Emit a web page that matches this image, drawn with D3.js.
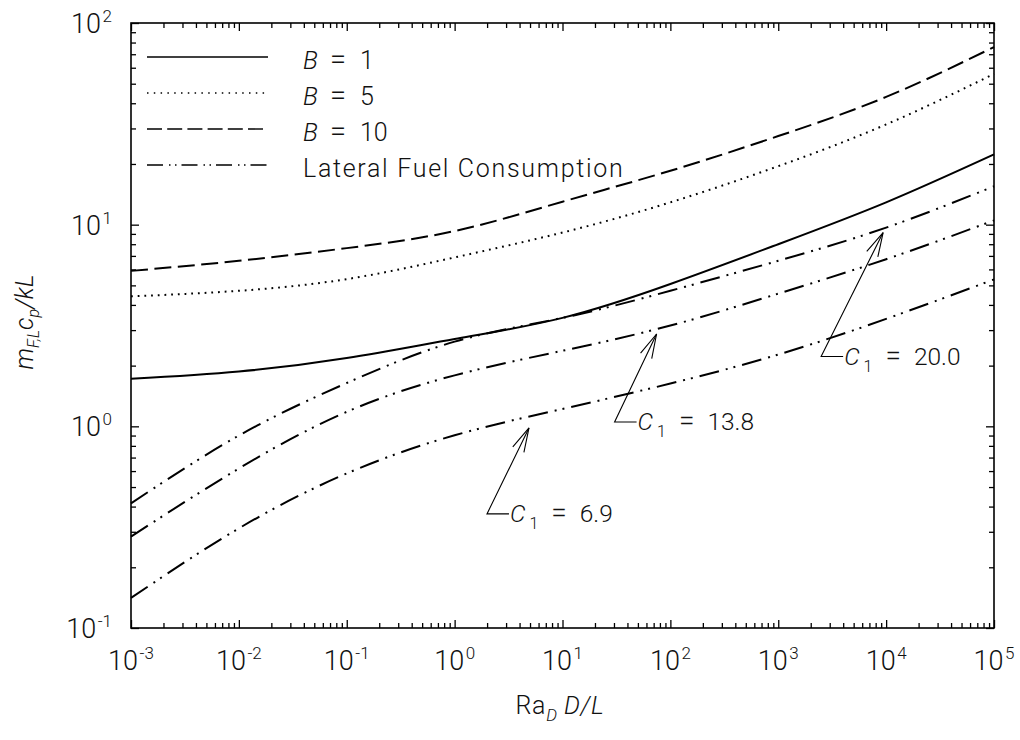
<!DOCTYPE html>
<html>
<head>
<meta charset="utf-8">
<script src="https://cdn.jsdelivr.net/npm/d3@7"></script>
<style>
  html, body { margin: 0; padding: 0; background: #fff; }
  svg text { font-family: "Roboto", "Liberation Sans", sans-serif; font-weight: 300; fill: #111; }
</style>
</head>
<body>
<svg id="chart" width="1020" height="740"></svg>
<script>
// Dimensionless Rayleigh number samples (one per decade)
const raValues = [1e-3, 1e-2, 1e-1, 1, 1e1, 1e2, 1e3, 1e4, 1e5];

// Total burning-rate curves for three transfer numbers
const massB1  = [1.72, 1.87, 2.18, 2.71, 3.45, 5.08, 8.0, 12.9, 22.3];
const massB5  = [4.41, 4.70, 5.37, 6.88, 9.14, 12.9, 19.5, 31.4, 55.9];
const massB10 = [5.90, 6.62, 7.65, 9.30, 13.0, 18.5, 27.5, 43.0, 76.0];

// Lateral fuel consumption for three values of C1
const lateralC20 = [0.415, 0.90, 1.64, 2.63, 3.45, 4.70, 6.62, 9.67, 15.5];
const lateralC13 = [0.284, 0.618, 1.18, 1.79, 2.37, 3.16, 4.55, 6.74, 10.5];
const lateralC7  = [0.141, 0.312, 0.584, 0.903, 1.22, 1.63, 2.27, 3.41, 5.35];

// Legend entries
const legendLabels = ["1", "5", "10", "Lateral Fuel Consumption"];

// Callouts: C1 value and the point (Ra, m) the arrow points at
const calloutC1   = ["6.9", "13.8", "20.0"];
const calloutRa   = [4.89, 74.5, 9380];
const calloutMass = [0.982, 2.87, 9.14];

// Axis tick exponents
const xExponents = [-3, -2, -1, 0, 1, 2, 3, 4, 5];
const yExponents = [-1, 0, 1, 2];

const svg = d3.select("#chart");
const plotLeft = 131, plotRight = 994, plotTop = 23, plotBottom = 628;

const x = d3.scaleLog().domain([1e-3, 1e5]).range([plotLeft, plotRight]);
const y = d3.scaleLog().domain([0.1, 100]).range([plotBottom, plotTop]);

const xMajor = xExponents.map(e => Math.pow(10, e));
const yMajor = yExponents.map(e => Math.pow(10, e));
const minorsOf = exps => {
  const out = [];
  exps.slice(0, -1).forEach(e => { for (let k = 2; k <= 9; k++) out.push(k * Math.pow(10, e)); });
  return out;
};
const xMinor = minorsOf(xExponents);
const yMinor = minorsOf(yExponents);

const MAJOR = 8, MINOR = 5;

function tickAxis(gen, scale, values, size, transform) {
  const g = svg.append("g").attr("transform", transform)
    .call(gen(scale).tickValues(values).tickSize(size).tickSizeOuter(0).tickFormat(""));
  g.select(".domain").remove();
  g.selectAll(".tick line").attr("stroke", "#000").attr("stroke-width", 1.3);
  return g;
}

// Inward ticks on all four sides
tickAxis(d3.axisBottom, x, xMajor, -MAJOR, `translate(0,${plotBottom})`);
tickAxis(d3.axisBottom, x, xMinor, -MINOR, `translate(0,${plotBottom})`);
tickAxis(d3.axisTop, x, xMajor, -MAJOR, `translate(0,${plotTop})`);
tickAxis(d3.axisTop, x, xMinor, -MINOR, `translate(0,${plotTop})`);
tickAxis(d3.axisLeft, y, yMajor, -MAJOR, `translate(${plotLeft},0)`);
tickAxis(d3.axisLeft, y, yMinor, -MINOR, `translate(${plotLeft},0)`);
tickAxis(d3.axisRight, y, yMajor, -MAJOR, `translate(${plotRight},0)`);
tickAxis(d3.axisRight, y, yMinor, -MINOR, `translate(${plotRight},0)`);

// Plot frame
svg.append("rect")
  .attr("x", plotLeft).attr("y", plotTop)
  .attr("width", plotRight - plotLeft).attr("height", plotBottom - plotTop)
  .attr("fill", "none").attr("stroke", "#000").attr("stroke-width", 1.6);

// Power-of-ten tick labels
function powerLabel(sel, exp) {
  sel.append("tspan").text("10");
  sel.append("tspan").attr("dx", 1.5).attr("dy", -11).attr("font-size", 17).text(String(exp));
}
xExponents.forEach((e, i) => {
  svg.append("text")
    .attr("x", x(xMajor[i])).attr("y", 670)
    .attr("text-anchor", "middle").attr("font-size", 27)
    .call(powerLabel, e);
});
yExponents.forEach((e, i) => {
  svg.append("text")
    .attr("x", 112).attr("y", y(yMajor[i]) + 10)
    .attr("text-anchor", "end").attr("font-size", 27)
    .call(powerLabel, e);
});

// Axis titles
const xTitle = svg.append("text")
  .attr("x", 560).attr("y", 714).attr("text-anchor", "middle").attr("font-size", 25)
  .attr("letter-spacing", 0.8);
xTitle.append("tspan").text("Ra");
xTitle.append("tspan").attr("dy", 7).attr("font-size", 17).attr("font-style", "italic").text("D");
xTitle.append("tspan").attr("dy", -7).attr("dx", 6).attr("font-style", "italic").text("D/L");

const yTitle = svg.append("text")
  .attr("transform", "translate(33,322) rotate(-90)")
  .attr("text-anchor", "middle").attr("font-size", 25).attr("font-style", "italic");
yTitle.append("tspan").text("m");
yTitle.append("tspan").attr("dy", 6).attr("font-size", 16).text("F,L");
yTitle.append("tspan").attr("dy", -6).text("c");
yTitle.append("tspan").attr("dy", 6).attr("font-size", 16).text("p");
yTitle.append("tspan").attr("dy", -6).text("/kL");

// Curves, smooth in log-log space
const line = d3.line().x(d => x(d[0])).y(d => y(d[1])).curve(d3.curveNatural);
const dashDotDot = "20,7,2,6,2,7";
const series = [
  { values: massB1,     dash: null },
  { values: massB5,     dash: "1.8,4.9" },
  { values: massB10,    dash: "17,6.5" },
  { values: lateralC20, dash: dashDotDot },
  { values: lateralC13, dash: dashDotDot },
  { values: lateralC7,  dash: dashDotDot }
];
series.forEach(s => {
  svg.append("path")
    .datum(raValues.map((r, i) => [r, s.values[i]]))
    .attr("d", line)
    .attr("fill", "none").attr("stroke", "#000").attr("stroke-width", 2)
    .attr("stroke-dasharray", s.dash);
});

// Legend
const legendDash = [null, "1.5,5.3", "15,5.2", "16,6,1.5,4.5,1.5,5"];
legendLabels.forEach((lab, i) => {
  const ly = 57 + i * 36;
  svg.append("line")
    .attr("x1", 147).attr("x2", 268).attr("y1", ly).attr("y2", ly)
    .attr("stroke", "#000").attr("stroke-width", 1.4)
    .attr("stroke-dasharray", legendDash[i]);
  const t = svg.append("text").attr("x", 303).attr("y", ly + 12).attr("font-size", 25);
  if (i < 3) {
    t.append("tspan").attr("font-style", "italic").text("B");
    t.append("tspan").attr("dx", 12).attr("font-size", 29).text("=");
    t.append("tspan").attr("dx", 14).text(lab);
  } else {
    t.attr("letter-spacing", 1.7).text(lab);
  }
});

// Callout arrows with C1 labels
const tailOffset = [[-42, 86], [-42, 88], [-62, 124]];
calloutC1.forEach((c, i) => {
  const tx = x(calloutRa[i]), ty = y(calloutMass[i]);
  const [dx, dy] = tailOffset[i];
  const bx = tx + dx, by = ty + dy;
  const len = Math.hypot(dx, dy), ux = dx / len, uy = dy / len;
  const barb = a => [tx + 25 * (ux * Math.cos(a) - uy * Math.sin(a)),
                     ty + 25 * (ux * Math.sin(a) + uy * Math.cos(a))];
  const [b1x, b1y] = barb(0.25), [b2x, b2y] = barb(-0.25);
  const g = svg.append("g").attr("stroke", "#000").attr("stroke-width", 1.1).attr("fill", "none");
  g.append("path").attr("d", `M${bx + 22},${by}H${bx}L${tx},${ty}`);
  g.append("path").attr("d", `M${b1x},${b1y}L${tx},${ty}L${b2x},${b2y}`);
  const t = svg.append("text").attr("x", bx + 23).attr("y", by + 8.5).attr("font-size", 24.5);
  t.append("tspan").attr("font-style", "italic").text("C");
  t.append("tspan").attr("dy", 7).attr("dx", 4).attr("font-size", 16).text("1");
  t.append("tspan").attr("dy", -7).attr("dx", 13).attr("font-size", 28).text("=");
  t.append("tspan").attr("dx", 13).text(c);
});
</script>
</body>
</html>
